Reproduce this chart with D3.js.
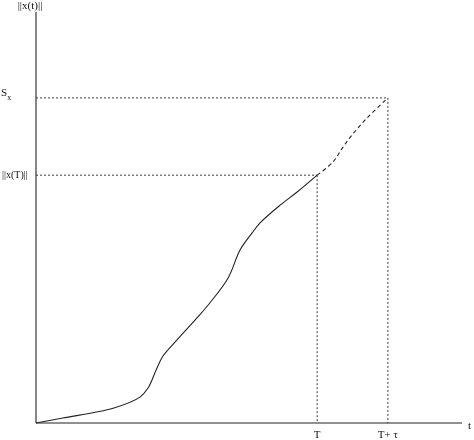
<!DOCTYPE html>
<html><head><meta charset="utf-8">
<script src="https://cdn.jsdelivr.net/npm/d3@7"></script>
<style>body{margin:0;background:#fff}svg{display:block;will-change:transform}text{font-family:"Liberation Serif","DejaVu Serif",serif}</style>
</head><body>
<svg id="c" width="474" height="440"></svg>
<script>
// trajectory ||x(t)|| (solid part up to T)
const solidT = [0,0.063,0.181,0.244,0.263,0.282,0.298,0.331,0.380,0.408,0.451,0.479,0.507,0.526,0.573,0.613,0.660];
const solidX = [0,0.012,0.036,0.063,0.085,0.129,0.163,0.202,0.258,0.292,0.353,0.421,0.462,0.487,0.530,0.562,0.603];
// dashed continuation from T to T+tau
const dashT = [0.660,0.697,0.721,0.742,0.777,0.826];
const dashX = [0.603,0.635,0.672,0.701,0.742,0.791];
// marked values
const markT = [0.660, 0.826];
const markTLabels = ["T", "T+ τ"];
const markX = [0.603, 0.791];
const yLabels = ["||x(T)||", "S"];

const svg = d3.select("#c");
const x = d3.scaleLinear().domain([0,1]).range([36,462]);
const y = d3.scaleLinear().domain([0,1]).range([423,12]);
const stroke = "#222";
const tcol = "#111";

// axes
svg.append("line").attr("x1",x(0)).attr("x2",x(0)).attr("y1",y(0)).attr("y2",y(1)).attr("stroke",stroke).attr("stroke-width",1.1);
svg.append("line").attr("x1",x(0)).attr("x2",x(1)).attr("y1",y(0)).attr("y2",y(0)).attr("stroke",stroke).attr("stroke-width",1.1);

// guide lines
markT.forEach((t,i)=>{
  const v = markX[i];
  svg.append("line").attr("x1",x(0)).attr("x2",x(t)).attr("y1",y(v)).attr("y2",y(v))
    .attr("stroke",stroke).attr("stroke-width",0.9).attr("stroke-dasharray","2,2");
  svg.append("line").attr("x1",x(t)).attr("x2",x(t)).attr("y1",y(v)).attr("y2",y(0))
    .attr("stroke",stroke).attr("stroke-width",0.9).attr("stroke-dasharray","2,2");
});

const line = d3.line().x(d=>x(d[0])).y(d=>y(d[1])).curve(d3.curveCatmullRom);
svg.append("path").attr("d",line(solidT.map((t,i)=>[t,solidX[i]])))
  .attr("fill","none").attr("stroke",stroke).attr("stroke-width",1.1);
svg.append("path").attr("d",line(dashT.map((t,i)=>[t,dashX[i]])))
  .attr("fill","none").attr("stroke",stroke).attr("stroke-width",1.1).attr("stroke-dasharray","4,3");

// labels
svg.append("text").attr("x",x(0)-6).attr("y",9).attr("fill",tcol).attr("text-anchor","middle").attr("font-size",11).text("||x(t)||");
svg.append("text").attr("x",x(1)+6).attr("y",y(0)+6).attr("fill",tcol).attr("font-size",11).text("t");
markT.forEach((t,i)=>{
  svg.append("text").attr("x",x(t)).attr("y",y(0)+15).attr("fill",tcol).attr("text-anchor","middle").attr("font-size",11).text(markTLabels[i]);
});
svg.append("text").attr("x",2).attr("y",y(markX[0])+3).attr("fill",tcol).attr("font-size",10).text(yLabels[0]);
const s = svg.append("text").attr("x",1).attr("y",y(markX[1])-2).attr("fill",tcol).attr("font-size",11).text(yLabels[1]);
s.append("tspan").attr("dy",4).attr("font-size",8).text("x");
</script>
</body></html>
